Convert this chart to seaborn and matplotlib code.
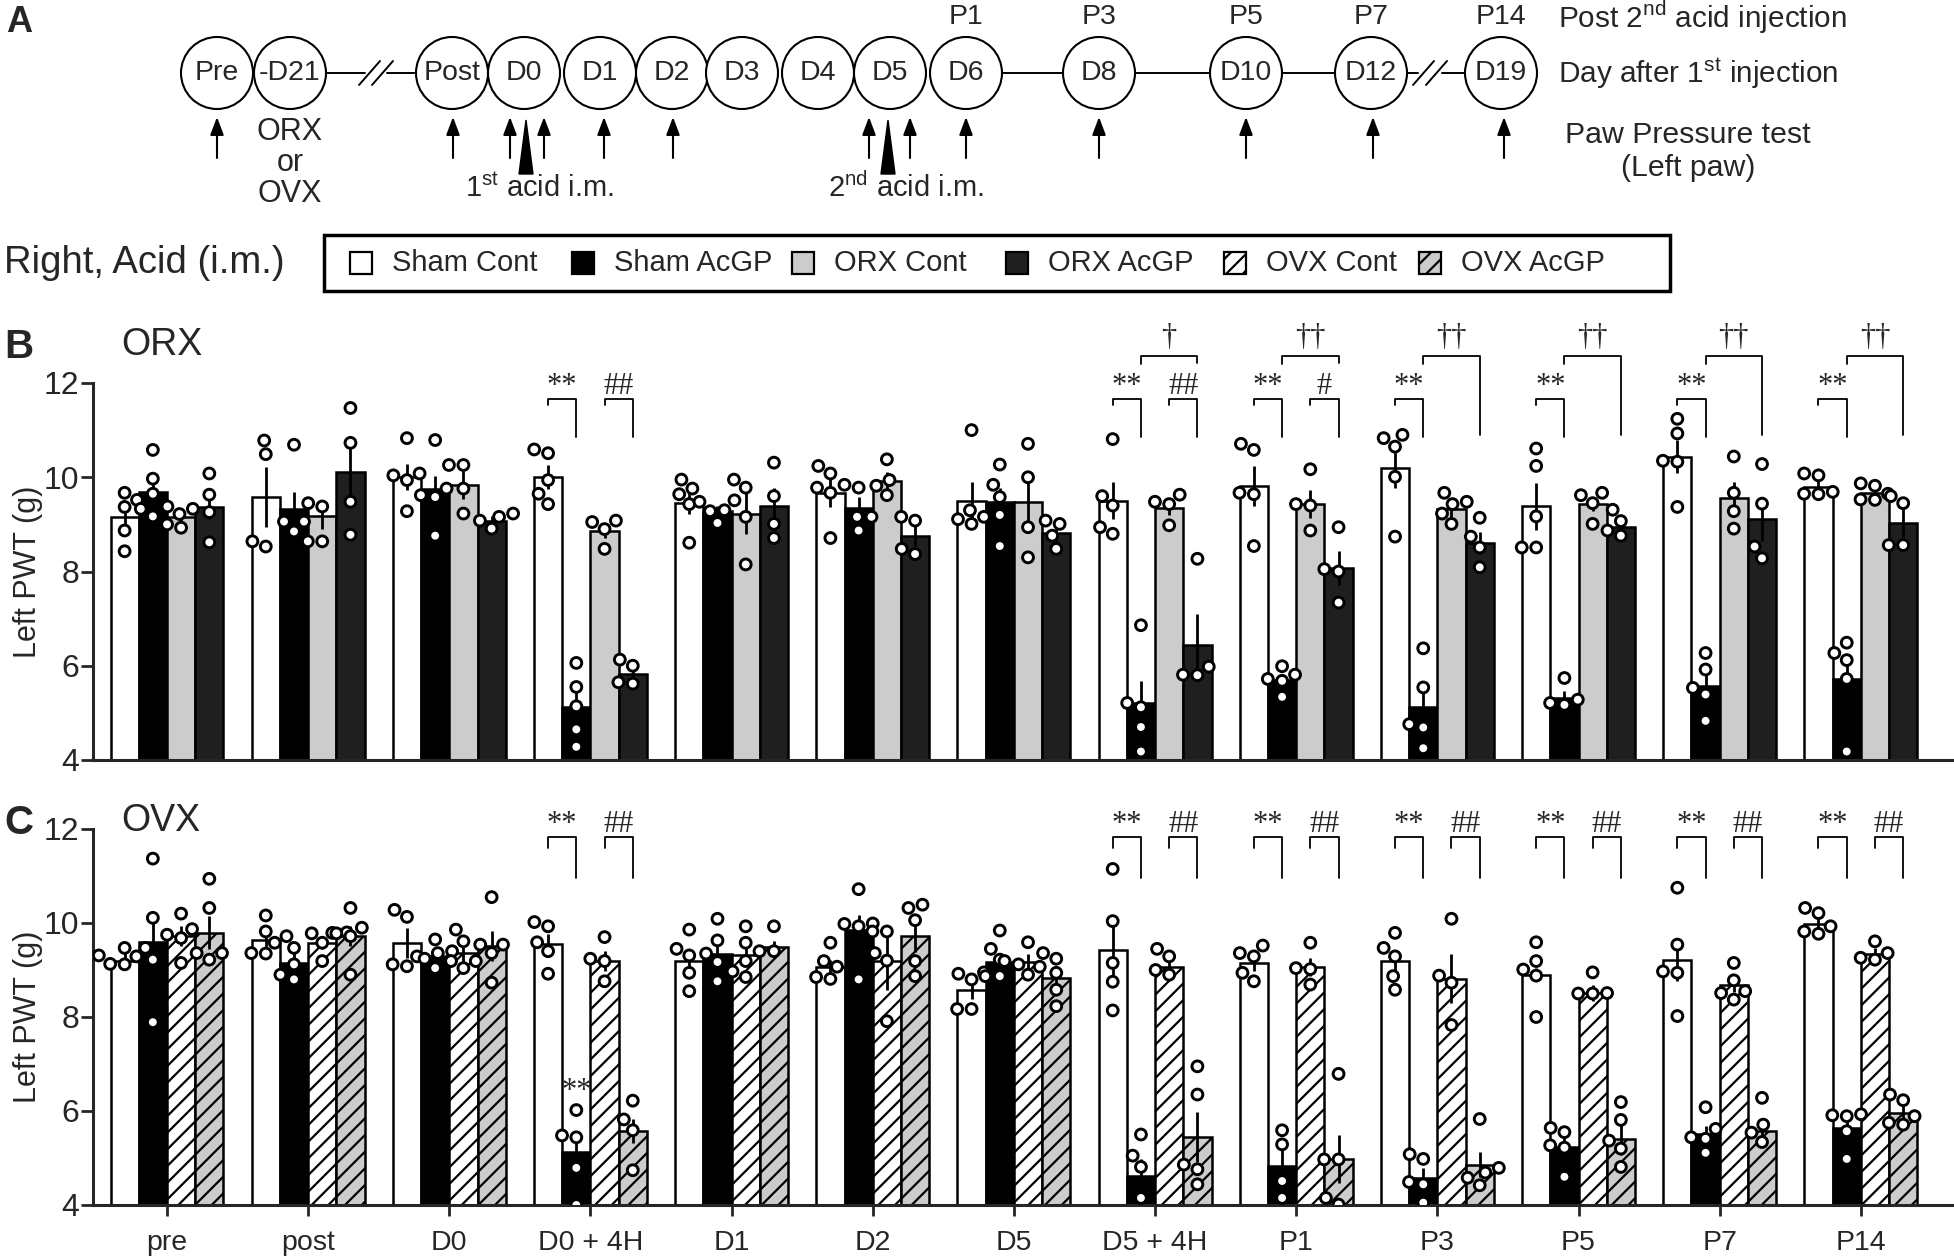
import numpy as np
import pandas as pd
import matplotlib
matplotlib.use('Agg')
import matplotlib.pyplot as plt
from matplotlib import font_manager
import seaborn as sns
from matplotlib.patches import Circle, Rectangle, Polygon

# categories
times = ['pre', 'post', 'D0', 'D0 + 4H', 'D1', 'D2', 'D5', 'D5 + 4H', 'P1', 'P3', 'P5', 'P7', 'P14']
orx_groups = ['Sham Cont', 'Sham AcGP', 'ORX Cont', 'ORX AcGP']
ovx_groups = ['Sham Cont', 'Sham AcGP', 'OVX Cont', 'OVX AcGP']

# panel B (ORX) - means, SEM and individual animals
b_sham_cont = [9.16, 9.58, 10.01, 10.01, 9.45, 9.67, 9.49, 9.50, 9.81, 10.19, 9.38, 10.44, 9.80]
b_sham_cont_sem = [0.31, 0.64, 0.28, 0.25, 0.24, 0.30, 0.41, 0.39, 0.43, 0.42, 0.49, 0.35, 0.12]
b_sham_cont_pts = [[9.37, 9.67, 9.52, 8.87, 8.43], [10.78, 10.49, 8.64, 8.53], [10.83, 10.08, 10.04, 9.94, 9.28],
                   [10.59, 10.51, 9.94, 9.65, 9.43], [9.95, 9.76, 9.64, 9.43, 8.61], [10.24, 10.08, 9.78, 9.67, 8.71],
                   [11.0, 9.30, 9.16, 9.11, 9.01], [10.81, 9.60, 9.40, 8.94, 8.80], [10.71, 10.58, 9.67, 9.64, 8.54],
                   [10.90, 10.83, 10.65, 10.01, 8.74], [10.61, 10.24, 9.17, 8.51, 8.51], [11.24, 10.93, 10.35, 10.33, 9.37],
                   [10.08, 10.04, 9.69, 9.65, 9.64]]

b_sham_acgp = [9.69, 9.32, 9.76, 5.12, 9.28, 9.35, 9.48, 5.21, 5.69, 5.12, 5.31, 5.56, 5.72]
b_sham_acgp_sem = [0.28, 0.37, 0.27, 0.37, 0.12, 0.23, 0.30, 0.46, 0.13, 0.41, 0.15, 0.39, 0.38]
b_sham_acgp_pts = [[10.58, 9.97, 9.65, 9.33, 9.17], [10.69, 9.06, 9.06, 8.85], [10.79, 9.76, 9.62, 9.58, 8.76],
                   [6.06, 5.55, 5.14, 4.65, 4.28], [9.51, 9.48, 9.30, 9.28, 9.03], [9.84, 9.78, 9.16, 9.16, 8.87],
                   [10.27, 9.84, 9.58, 9.20, 8.54], [6.86, 5.21, 5.12, 4.70, 4.18], [5.99, 5.81, 5.72, 5.68, 5.34],
                   [6.37, 5.54, 4.76, 4.69, 4.25], [5.74, 5.28, 5.21, 5.17], [6.27, 5.92, 5.53, 5.39, 4.83],
                   [6.49, 6.27, 6.12, 5.72, 4.18]]

b_orx_cont = [9.16, 9.17, 9.83, 8.87, 9.23, 9.92, 9.48, 9.35, 9.44, 9.32, 9.43, 9.56, 9.67]
b_orx_cont_sem = [0.12, 0.27, 0.30, 0.15, 0.44, 0.20, 0.52, 0.16, 0.30, 0.16, 0.15, 0.34, 0.09]
b_orx_cont_pts = [[9.38, 9.33, 9.22, 9.0, 8.93], [9.45, 9.38, 8.64, 8.64], [10.26, 10.26, 9.76, 9.23],
                  [9.08, 9.05, 8.90, 8.48], [9.95, 9.78, 9.16, 8.15], [10.38, 9.94, 9.82, 9.62],
                  [10.71, 10.0, 8.94, 8.30], [9.63, 9.48, 9.43, 8.98], [10.17, 9.43, 9.40, 8.87],
                  [9.67, 9.48, 9.43, 9.23, 9.01], [9.67, 9.62, 9.45, 9.01], [10.44, 9.67, 9.28, 8.91],
                  [9.87, 9.82, 9.65, 9.53, 9.52]]

b_orx_acgp = [9.37, 10.12, 9.07, 5.83, 9.38, 8.76, 8.81, 6.45, 8.07, 8.60, 8.94, 9.11, 9.03]
b_orx_acgp_sem = [0.25, 0.61, 0.10, 0.10, 0.39, 0.22, 0.24, 0.64, 0.36, 0.23, 0.14, 0.47, 0.30]
b_orx_acgp_pts = [[10.08, 9.63, 9.26, 8.62], [11.47, 10.73, 9.48, 8.78], [9.23, 9.16, 9.08, 8.91],
                  [6.13, 6.0, 5.65, 5.62], [10.31, 9.60, 9.01, 8.71], [9.16, 9.08, 8.48, 8.37],
                  [9.08, 9.01, 8.76, 8.48], [8.27, 5.98, 5.81, 5.80], [8.94, 8.05, 8.0, 7.34],
                  [9.14, 8.74, 8.51, 8.09], [9.31, 9.07, 8.87, 8.76], [10.28, 9.44, 8.53, 8.28],
                  [9.60, 9.45, 8.56, 8.56]]

# panel C (OVX)
c_sham_cont = [9.19, 9.63, 9.58, 9.56, 9.19, 9.07, 8.57, 9.42, 9.15, 9.19, 8.90, 9.22, 9.97]
c_sham_cont_sem = [0.17, 0.16, 0.32, 0.21, 0.17, 0.15, 0.19, 0.60, 0.18, 0.21, 0.14, 0.46, 0.14]
c_sham_cont_pts = [[9.47, 9.31, 9.29, 9.13, 9.12], [10.16, 9.82, 9.58, 9.36, 9.35], [10.28, 10.13, 9.29, 9.12, 9.08],
                   [10.02, 9.93, 9.59, 9.40, 8.92], [9.86, 9.45, 9.31, 8.94, 8.55], [9.58, 9.19, 9.07, 8.85, 8.81],
                   [8.95, 8.92, 8.80, 8.17, 8.17], [11.15, 10.04, 9.15, 8.75, 8.14], [9.52, 9.36, 9.29, 8.94, 8.76],
                   [9.79, 9.47, 9.29, 8.87, 8.58], [9.59, 9.19, 9.01, 8.88, 8.0], [10.75, 9.54, 8.97, 8.94, 8.02],
                   [10.32, 10.21, 9.93, 9.82, 9.77]]

c_sham_acgp = [9.60, 9.15, 9.29, 5.13, 9.35, 9.85, 9.17, 4.62, 4.84, 4.58, 5.24, 5.52, 5.63]
c_sham_acgp_sem = [0.54, 0.21, 0.14, 0.34, 0.23, 0.33, 0.19, 0.35, 0.48, 0.21, 0.19, 0.17, 0.25]
c_sham_acgp_pts = [[11.37, 10.11, 9.47, 9.22, 7.89], [9.72, 9.47, 9.12, 8.90, 8.80], [9.65, 9.40, 9.36, 9.24, 9.04],
                   [6.02, 5.48, 5.44, 4.79, 4.0], [10.09, 9.63, 9.35, 9.17, 8.76], [10.72, 9.99, 9.98, 9.93, 8.80],
                   [9.84, 9.45, 9.22, 8.87, 8.87], [5.50, 5.05, 4.81, 4.15], [5.59, 5.29, 4.51, 4.15],
                   [5.08, 4.98, 4.49, 4.44, 4.05], [5.64, 5.55, 5.27, 5.22, 4.60], [6.08, 5.62, 5.44, 5.41, 5.11],
                   [5.93, 5.91, 5.89, 5.57, 4.98]]

c_ovx_cont = [9.72, 9.58, 9.36, 9.19, 9.31, 9.20, 9.17, 9.07, 9.07, 8.81, 8.51, 8.68, 9.35]
c_ovx_cont_sem = [0.21, 0.14, 0.22, 0.21, 0.20, 0.62, 0.16, 0.15, 0.19, 0.52, 0.18, 0.15, 0.12]
c_ovx_cont_pts = [[10.20, 9.87, 9.75, 9.68, 9.15], [9.80, 9.79, 9.78, 9.58, 9.19], [9.86, 9.61, 9.19, 9.19, 9.04],
                  [9.70, 9.24, 9.19, 8.76], [9.93, 9.58, 9.19, 8.97, 8.85], [9.82, 9.82, 9.36, 9.20, 7.91],
                  [9.59, 9.19, 9.12, 9.07, 8.90], [9.45, 9.29, 9.0, 8.90], [9.58, 9.04, 9.02, 8.69],
                  [10.09, 8.88, 8.73, 7.83], [8.95, 8.51, 8.50, 8.50], [9.15, 8.78, 8.55, 8.51, 8.37],
                  [9.61, 9.36, 9.26, 9.22]]

c_ovx_acgp = [9.79, 9.72, 9.51, 5.57, 9.49, 9.73, 8.83, 5.45, 4.97, 4.86, 5.41, 5.57, 5.96]
c_ovx_acgp_sem = [0.35, 0.21, 0.31, 0.25, 0.12, 0.34, 0.21, 0.53, 0.51, 0.27, 0.34, 0.18, 0.14]
c_ovx_acgp_pts = [[10.94, 10.32, 9.36, 9.36, 9.22], [10.32, 9.90, 9.78, 9.72, 8.90], [10.55, 9.54, 9.54, 9.36, 8.73],
                  [6.22, 5.82, 5.59, 4.74], [9.93, 9.40, 9.40], [10.39, 10.32, 10.06, 9.19, 8.87],
                  [9.36, 9.24, 8.94, 8.58, 8.23], [6.95, 6.35, 4.86, 4.76, 4.44], [6.79, 4.97, 4.97, 4.15, 4.01],
                  [5.83, 4.79, 4.69, 4.58, 4.42], [6.19, 5.81, 5.37, 5.20, 4.81], [6.28, 5.71, 5.54, 5.34],
                  [6.35, 6.23, 5.89, 5.75, 5.71]]

# significance marks per time index
orx_star = [3, 7, 8, 9, 10, 11, 12]
orx_hash = {3: '##', 7: '##', 8: '#'}
orx_dagger = {7: '\u2020', 8: '\u2020\u2020', 9: '\u2020\u2020', 10: '\u2020\u2020', 11: '\u2020\u2020', 12: '\u2020\u2020'}
ovx_star = [3, 7, 8, 9, 10, 11, 12]
ovx_hash = {3: '##', 7: '##', 8: '##', 9: '##', 10: '##', 11: '##', 12: '##'}

# timeline (panel A)
tl_labels = ['Pre', '-D21', 'Post', 'D0', 'D1', 'D2', 'D3', 'D4', 'D5', 'D6', 'D8', 'D10', 'D12', 'D19']
post_labels = {'D6': 'P1', 'D8': 'P3', 'D10': 'P5', 'D12': 'P7', 'D19': 'P14'}
legend_labels = ['Sham Cont', 'Sham AcGP', 'ORX Cont', 'ORX AcGP', 'OVX Cont', 'OVX AcGP']

sns.set_theme(style='ticks')

# the figure text is tall and narrow; use the narrow face when it is there
installed = {f.name for f in font_manager.fontManager.ttflist}
if 'Liberation Sans Narrow' in installed:
    main_font, k = 'Liberation Sans Narrow', 1.2
else:
    main_font, k = 'Liberation Sans', 1.0
plt.rcParams['font.family'] = [main_font, 'Liberation Sans', 'DejaVu Sans']
plt.rcParams['mathtext.fontset'] = 'custom'
plt.rcParams['mathtext.rm'] = main_font
plt.rcParams['hatch.linewidth'] = 1.6


def fs(x):
    return x * k


fill = {'Sham Cont': 'white', 'Sham AcGP': 'black', 'ORX Cont': '#cccccc', 'ORX AcGP': '#1f1f1f',
        'OVX Cont': 'white', 'OVX AcGP': '#cccccc'}
hatch = {'Sham Cont': None, 'Sham AcGP': None, 'ORX Cont': None, 'ORX AcGP': None,
         'OVX Cont': '//', 'OVX AcGP': '//'}
serif = ['Liberation Serif', 'DejaVu Serif']


def long_means(groups, means, sems):
    rows = []
    for g, m, s in zip(groups, means, sems):
        for t, mv, sv in zip(times, m, s):
            rows.append({'time': t, 'group': g, 'mean': mv, 'sem': sv})
    return pd.DataFrame(rows)


def long_points(groups, pts):
    rows = []
    for g, p in zip(groups, pts):
        for t, vals in zip(times, p):
            for v in vals:
                rows.append({'time': t, 'group': g, 'value': v})
    return pd.DataFrame(rows)


def draw_panel(ax, groups, means, sems, pts):
    mdf = long_means(groups, means, sems)
    pdf = long_points(groups, pts)
    sns.barplot(data=mdf, x='time', y='mean', hue='group', order=times, hue_order=groups,
                palette=fill, saturation=1, width=0.8, errorbar=None, edgecolor='black',
                linewidth=1.8, legend=False, ax=ax)
    for g, cont, s in zip(groups, ax.containers, sems):
        xs = [b.get_x() + b.get_width() / 2 for b in cont]
        ys = [b.get_height() for b in cont]
        if hatch[g]:
            for b in cont:
                b.set_hatch(hatch[g])
        ax.errorbar(xs, ys, yerr=s, fmt='none', ecolor='black', elinewidth=2, capsize=0, zorder=3)
    sns.swarmplot(data=pdf, x='time', y='value', hue='group', order=times, hue_order=groups,
                  dodge=True, palette={g: 'white' for g in groups}, edgecolor='black',
                  linewidth=2.1, size=7.8, legend=False, ax=ax, zorder=4)
    ax.set_facecolor('none')
    ax.set_xlim(-0.524, 12.66)
    ax.set_ylim(4, 12)
    ax.set_yticks([4, 6, 8, 10, 12])
    ax.set_xlabel('')
    ax.set_ylabel('Left PWT (g)', fontsize=22, family=['Liberation Sans', 'DejaVu Sans'])
    ax.yaxis.set_label_coords(-0.027, 0.5)
    sns.despine(ax=ax)
    for sp in ['left', 'bottom']:
        ax.spines[sp].set_linewidth(2.2)
    ax.tick_params(axis='y', length=9, width=2, labelsize=fs(23), pad=1)


def bracket(ax, x1, x2, ytop, y1, y2, text, ty):
    ax.plot([x1, x1, x2, x2], [y1, ytop, ytop, y2], color='black', lw=1.3, clip_on=False)
    ax.text((x1 + x2) / 2, ty, text, ha='center', va='center', fontsize=22, family=serif, clip_on=False)


off = [-0.3, -0.1, 0.1, 0.3]

fig = plt.figure(figsize=(19.54, 12.59), dpi=100)

# overlay in pixel coordinates for panel A, legend and panel letters
ax0 = fig.add_axes([0, 0, 1, 1])
ax0.set_xlim(0, 1954)
ax0.set_ylim(1259, 0)
ax0.axis('off')
ax0.patch.set_alpha(0)

tl_x = [217, 290, 452, 524, 600, 672, 742, 818, 890, 966, 1099, 1246, 1371, 1501]
cy, r = 73, 36
ax0.plot([326, 365], [cy, cy], color='black', lw=1.4, zorder=1)
ax0.plot([387, 420], [cy, cy], color='black', lw=1.4, zorder=1)
ax0.plot([930, 1418], [cy, cy], color='black', lw=1.4, zorder=1)
ax0.plot([1442, 1470], [cy, cy], color='black', lw=1.4, zorder=1)
for bx in [376, 1430]:
    ax0.plot([bx - 17, bx + 4], [cy + 12, cy - 12], color='black', lw=1.4)
    ax0.plot([bx - 4, bx + 17], [cy + 12, cy - 12], color='black', lw=1.4)
for lab, x in zip(tl_labels, tl_x):
    ax0.add_patch(Circle((x, cy), r, facecolor='white', edgecolor='black', lw=1.5, zorder=2))
    ax0.text(x, cy, lab, ha='center', va='center', fontsize=fs(20.5), zorder=3)
    if lab in post_labels:
        ax0.text(x, 17, post_labels[lab], ha='center', va='center', fontsize=fs(20.5))

arrow_x = [217, 453, 510, 544, 604, 673, 869, 910, 966, 1099, 1246, 1373, 1504]
for x in arrow_x:
    ax0.annotate('', xy=(x, 117), xytext=(x, 158),
                 arrowprops=dict(arrowstyle='-|>,head_length=0.45,head_width=0.17', color='black',
                                 lw=1.5, mutation_scale=24, shrinkA=0, shrinkB=0))
for x in [526, 888]:
    ax0.add_patch(Polygon([(x, 120), (x - 7, 174), (x + 7, 174)], closed=True, color='black'))

for i, w in enumerate(['ORX', 'or', 'OVX']):
    ax0.text(290, 132 + 31 * i, w, ha='center', va='center', fontsize=fs(22))
ax0.text(539, 188, r'1$^{\mathrm{st}}$ acid i.m.', ha='center', va='center', fontsize=fs(21))
ax0.text(906, 188, r'2$^{\mathrm{nd}}$ acid i.m.', ha='center', va='center', fontsize=fs(21))
ax0.text(1558, 17, r'Post 2$^{\mathrm{nd}}$ acid injection', ha='left', va='center', fontsize=fs(21.4))
ax0.text(1558, 73, r'Day after 1$^{\mathrm{st}}$ injection', ha='left', va='center', fontsize=fs(21.4))
ax0.text(1688, 135, 'Paw Pressure test', ha='center', va='center', fontsize=fs(21.8))
ax0.text(1688, 168, '(Left paw)', ha='center', va='center', fontsize=fs(21.8))
ax0.text(6, 22, 'A', ha='left', va='center', fontsize=26, fontweight='bold',
         family=['Liberation Sans', 'DejaVu Sans'])

# legend box
ax0.text(4, 263, 'Right, Acid (i.m.)', ha='left', va='center', fontsize=fs(27.5))
ax0.add_patch(Rectangle((324, 235), 1346, 56, facecolor='none', edgecolor='black', lw=2.5))
leg_x = [350, 572, 792, 1006, 1224, 1419]
for lab, x in zip(legend_labels, leg_x):
    ax0.add_patch(Rectangle((x, 252), 22, 22, facecolor=fill[lab], edgecolor='black', lw=1.6,
                            hatch=hatch[lab]))
    ax0.text(x + 42, 263, lab, ha='left', va='center', fontsize=fs(21))

for lab, title, y in [('B', 'ORX', 345), ('C', 'OVX', 821)]:
    ax0.text(4, y + 2, lab, ha='left', va='center', fontsize=29, fontweight='bold',
             family=['Liberation Sans', 'DejaVu Sans'])
    ax0.text(121, y, title, ha='left', va='center', fontsize=fs(27))

left = 93 / 1954
width = 1 - left

# panel B
axb = fig.add_axes([left, 1 - 760 / 1259, width, 377 / 1259])
draw_panel(axb, orx_groups, [b_sham_cont, b_sham_acgp, b_orx_cont, b_orx_acgp],
           [b_sham_cont_sem, b_sham_acgp_sem, b_orx_cont_sem, b_orx_acgp_sem],
           [b_sham_cont_pts, b_sham_acgp_pts, b_orx_cont_pts, b_orx_acgp_pts])
axb.tick_params(axis='x', length=0, labelbottom=False)
for i in orx_star:
    bracket(axb, i + off[0], i + off[1], 11.66, 11.54, 10.86, '**', 11.92)
for i, t in orx_hash.items():
    bracket(axb, i + off[2], i + off[3], 11.66, 11.54, 10.86, t, 11.92)
for i, t in orx_dagger.items():
    low = 12.42 if i in orx_hash else 10.9
    bracket(axb, i + off[1], i + off[3], 12.58, 12.40, low, t, 12.97)

# panel C
axc = fig.add_axes([left, 1 - 1205 / 1259, width, 376 / 1259])
draw_panel(axc, ovx_groups, [c_sham_cont, c_sham_acgp, c_ovx_cont, c_ovx_acgp],
           [c_sham_cont_sem, c_sham_acgp_sem, c_ovx_cont_sem, c_ovx_acgp_sem],
           [c_sham_cont_pts, c_sham_acgp_pts, c_ovx_cont_pts, c_ovx_acgp_pts])
axc.tick_params(axis='x', length=8, width=2, labelsize=fs(20.5), pad=10)
for i in ovx_star:
    bracket(axc, i + off[0], i + off[1], 11.82, 11.6, 10.95, '**', 12.1)
for i, t in ovx_hash.items():
    bracket(axc, i + off[2], i + off[3], 11.82, 11.6, 10.95, t, 12.1)
axc.text(3 + off[1], 6.42, '**', ha='center', va='center', fontsize=22, family=serif)

fig.savefig('out.png', dpi=100)
